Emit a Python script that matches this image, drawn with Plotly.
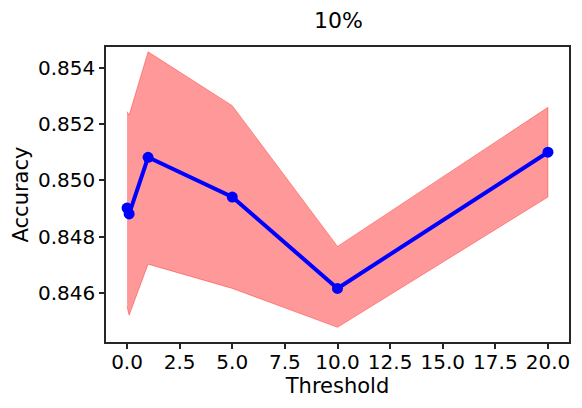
import plotly.graph_objects as go

# Threshold sweep (10%)
thresholds = [0, 0.1, 1, 5, 10, 20]
acc_mean = [0.84902, 0.84881, 0.85082, 0.84941, 0.84617, 0.85100]
acc_upper = [0.85244, 0.85232, 0.85456, 0.85265, 0.84766, 0.85259]
acc_lower = [0.84552, 0.84522, 0.84703, 0.84617, 0.84479, 0.84941]

FONT = "DejaVu Sans, sans-serif"

fig = go.Figure()

# band as one closed polygon, like fill_between
fig.add_trace(go.Scatter(
    x=thresholds + thresholds[::-1],
    y=acc_upper + acc_lower[::-1],
    fill="toself",
    fillcolor="rgba(255,0,0,0.4)",
    line=dict(color="rgba(255,0,0,0.35)", width=1),
    mode="lines",
    hoverinfo="skip",
    showlegend=False,
))

fig.add_trace(go.Scatter(
    x=thresholds, y=acc_mean,
    mode="lines+markers",
    line=dict(color="#0000ff", width=4),
    marker=dict(color="#0000ff", size=11),
    showlegend=False,
))

axis_common = dict(
    showgrid=False, zeroline=False,
    showline=True, linecolor="#262626", linewidth=1.5, mirror=True,
    ticks="outside", ticklen=5, tickwidth=1.5, tickcolor="#262626",
    tickfont=dict(size=20, color="black", family=FONT),
)

fig.update_xaxes(
    range=[-1, 21], tickmode="linear", tick0=0, dtick=2.5, tickformat=".1f",
    ticklabelstandoff=-4,
    title=dict(text="Threshold", font=dict(size=21, color="black", family=FONT), standoff=0),
    **axis_common,
)
fig.update_yaxes(
    range=[0.84427, 0.85473], tickmode="linear", tick0=0.846, dtick=0.002, tickformat=".3f",
    title=dict(text="Accuracy", font=dict(size=21, color="black", family=FONT), standoff=4),
    **axis_common,
)

# page body has an 8px margin, so the figure is 8px smaller than the window
fig.update_layout(
    width=574, height=400,
    margin=dict(l=98, r=11, t=39, b=66),
    paper_bgcolor="white", plot_bgcolor="white",
    font=dict(family=FONT, color="black"),
    title=dict(text="10%", x=0.5758, xanchor="center", y=0.97, yanchor="middle",
               font=dict(size=22, color="black", family=FONT)),
)

fig.write_html("out.html")
